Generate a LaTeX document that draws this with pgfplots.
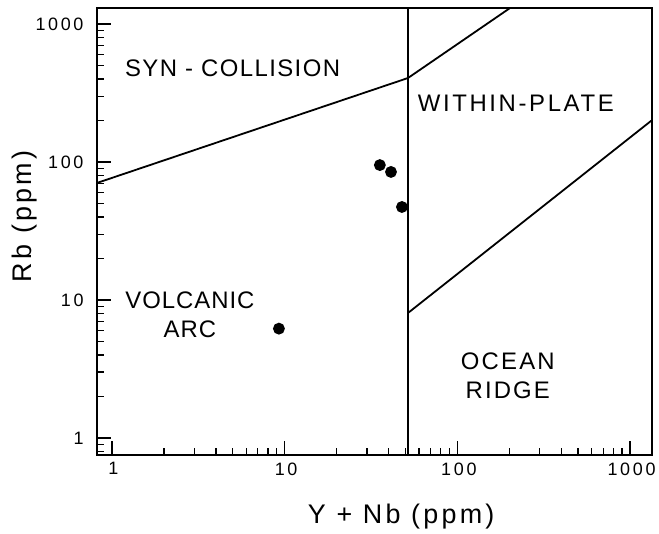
\documentclass[border=0pt]{standalone}
\usepackage{fontspec}
\setmainfont{Liberation Sans}
\usepackage{pgfplots}
\pgfplotsset{compat=1.18}
\newcommand{\lab}[1]{\fontsize{24}{29}\selectfont\addfontfeature{LetterSpace=#1}}
\begin{document}
\begin{tikzpicture}
\begin{axis}[
    xmode=log, ymode=log,
    scale only axis,
    width=555bp, height=447bp,
    xmin=0.82, xmax=1340,
    ymin=0.753, ymax=1306,
    axis line style={line width=1.8bp},
    tick align=inside,
    xtick pos=bottom, ytick pos=left,
    xtick={1,10,100,1000}, ytick={1,10,100,1000},
    xticklabels={1,10,100,1000}, yticklabels={1,10,100,1000},
    minor xtick={2,3,4,5,6,7,8,9,20,30,40,50,60,70,80,90,200,300,400,500,600,700,800,900},
    minor ytick={0.8,0.9,2,3,4,5,6,7,8,9,20,30,40,50,60,70,80,90,200,300,400,500,600,700,800,900},
    major tick length=14bp, minor tick length=7bp,
    every tick/.style={black, line width=1.3bp},
    /pgf/number format/assume math mode=true,
    ticklabel style={font=\fontsize{18}{18}\selectfont\addfontfeature{LetterSpace=15}},
    yticklabel style={xshift=-10bp},
    xticklabel style={yshift=-4bp, xshift=1.5bp},
    xlabel={Y + Nb (ppm)}, ylabel={Rb (ppm)},
    label style={font=\fontsize{27}{27}\selectfont\addfontfeature{LetterSpace=12}},
    xlabel style={at={(axis description cs:0.548,-0.137)}, anchor=center},
    ylabel style={at={(axis description cs:-0.130,0.534)}, anchor=center},
    every axis plot/.style={black, line width=1.8bp},
]
% field boundaries
\addplot[no marks] coordinates {(0.82,70.5) (51.8,406)};
\addplot[no marks] coordinates {(51.8,406) (202,1306)};
\addplot[no marks] coordinates {(51.8,0.753) (51.8,1306)};
\addplot[no marks] coordinates {(51.8,8.05) (1340,201)};
% samples
\addplot[only marks, mark=*, mark size=5bp] coordinates {
    (35.6,95) (41.3,84.7) (47.8,47.2) (9.27,6.2)
};
\node[font=\lab{6}] at (axis cs:5.0,480) {SYN\hspace{8bp}-\hspace{8bp}COLLISION};
\node[font=\lab{11}] at (axis cs:218,268) {WITHIN-PLATE};
\node[font=\lab{4}, align=center] at (axis cs:2.83,7.8) {VOLCANIC\\ARC};
\node[font=\lab{9}, align=center] at (axis cs:196,2.81) {OCEAN\\RIDGE};
\end{axis}
\pgfresetboundingbox
\path[use as bounding box] (-97bp,-79bp) rectangle (562bp,455bp);
\end{tikzpicture}
\end{document}
